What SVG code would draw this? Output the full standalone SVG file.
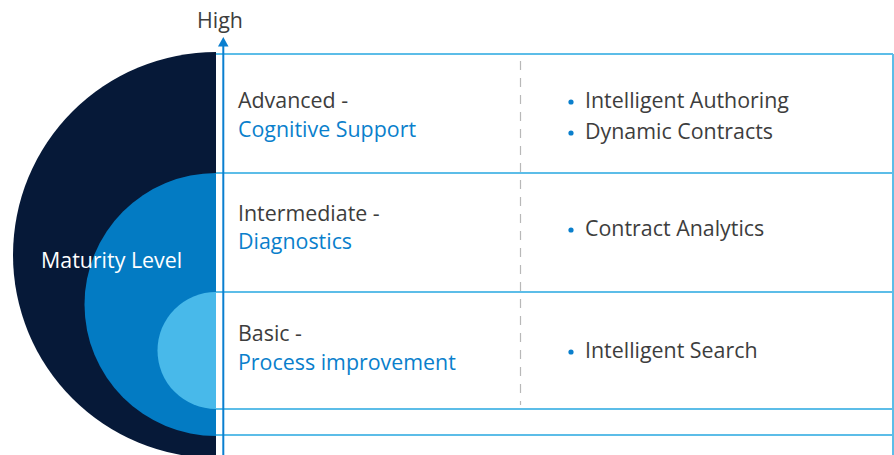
<svg xmlns="http://www.w3.org/2000/svg" width="894" height="455" viewBox="0 0 894 455">
  <defs>
    <style>
      .t { font-family: "Open Sans", "Liberation Sans", sans-serif; font-size: 21.4px; fill: #3d3d3d; }
      .b { fill: #0a7fcc; }
      .w { fill: #ffffff; }
      .grid { stroke: #5cbde8; stroke-width: 2; fill: none; }
      .dash { stroke: #b8b8b8; stroke-width: 1.2; stroke-dasharray: 9 8; }
      .dot { fill: #0a7fcc; }
    </style>
    <clipPath id="area"><rect x="0" y="0" width="216" height="455"/></clipPath>
  </defs>

  <!-- nested half-disks for the maturity levels -->
  <g id="levels" clip-path="url(#area)">
    <circle cx="216" cy="255" r="203" fill="#061938"/>
    <circle cx="216" cy="304.5" r="131.5" fill="#037bc3"/>
    <circle cx="216" cy="350.5" r="58.5" fill="#48b9ea"/>
  </g>
  <text class="t w" x="41" y="268">Maturity Level</text>

  <!-- table lines and axis -->
  <g id="connectors">
    <line class="grid" x1="216" y1="54" x2="893" y2="54"/>
    <line class="grid" x1="216" y1="173" x2="893" y2="173"/>
    <line class="grid" x1="216" y1="292" x2="893" y2="292"/>
    <line class="grid" x1="216" y1="409" x2="893" y2="409"/>
    <line class="grid" x1="216" y1="435" x2="893" y2="435"/>
    <line class="grid" x1="893" y1="54" x2="893" y2="455"/>
    <line class="dash" x1="520.5" y1="61" x2="520.5" y2="405"/>
    <line x1="223.3" y1="44" x2="223.3" y2="455" stroke="#0a7fd0" stroke-width="2"/>
    <polygon points="218,46.5 228.5,46.5 223.3,37" fill="#0a7fd0"/>
  </g>
  <text class="t" x="220" y="28" text-anchor="middle">High</text>

  <g id="advanced">
    <text class="t" x="238" y="108">Advanced -</text>
    <text class="t b" x="238" y="137">Cognitive Support</text>
    <circle class="dot" cx="571" cy="102" r="2.6"/>
    <text class="t" x="585" y="108">Intelligent Authoring</text>
    <circle class="dot" cx="571" cy="133" r="2.6"/>
    <text class="t" x="585" y="139">Dynamic Contracts</text>
  </g>

  <g id="intermediate">
    <text class="t" x="238" y="221">Intermediate -</text>
    <text class="t b" x="238" y="249">Diagnostics</text>
    <circle class="dot" cx="571" cy="230" r="2.6"/>
    <text class="t" x="585" y="236">Contract Analytics</text>
  </g>

  <g id="basic">
    <text class="t" x="238" y="341">Basic -</text>
    <text class="t b" x="238" y="370">Process improvement</text>
    <circle class="dot" cx="571" cy="352" r="2.6"/>
    <text class="t" x="585" y="358">Intelligent Search</text>
  </g>
</svg>
